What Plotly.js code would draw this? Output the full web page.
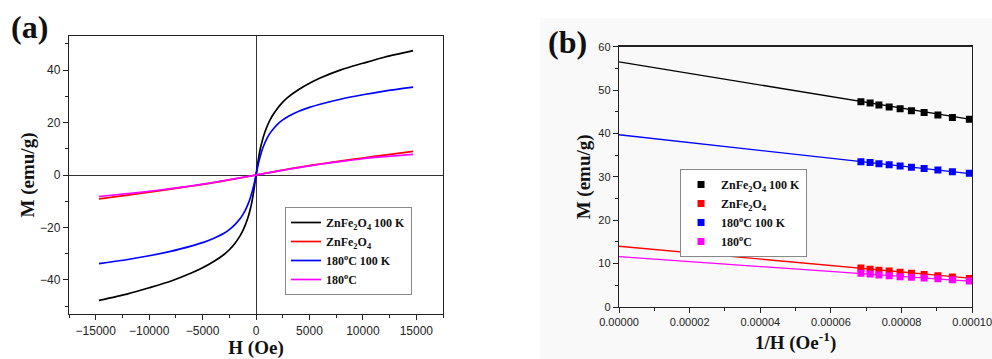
<!DOCTYPE html>
<html>
<head>
<meta charset="utf-8">
<script src="https://cdn.plot.ly/plotly-3.0.1.min.js"></script>
<style>html,body{margin:0;padding:0;background:#fff;}#chart{width:992px;height:359px;}</style>
</head>
<body>
<div id="chart"></div>
<script>
// ---------- Panel (a): M vs H ----------
const H = [-14700, -12000, -10000, -8000, -6000, -5000, -4000, -3000, -2500, -2000, -1500, -1250, -1000, -800, -600, -400, -200, 0,
           200, 400, 600, 800, 1000, 1250, 1500, 2000, 2500, 3000, 4000, 5000, 6000, 8000, 10000, 12000, 14700];
const M_zn100K = [-47.8, -45.3, -43.0, -40.5, -37.3, -35.4, -33.1, -30.3, -28.5, -26.2, -23.2, -21.3, -19.0, -16.8, -14.0, -10.5, -5.8, 0,
                  5.5, 10.0, 13.3, 16.0, 18.2, 20.5, 22.4, 25.4, 27.8, 29.7, 32.6, 35.0, 37.0, 40.2, 42.6, 44.9, 47.4];
const M_zn = [-9.1, -7.65, -6.55, -5.4, -4.2, -3.58, -2.92, -2.22, -1.86, -1.5, -1.12, -0.94, -0.75, -0.6, -0.45, -0.3, -0.15, 0,
              0.15, 0.3, 0.45, 0.6, 0.75, 0.94, 1.12, 1.5, 1.86, 2.22, 2.92, 3.58, 4.2, 5.4, 6.5, 7.6, 9.0];
const M_180_100K = [-33.8, -32.2, -30.8, -29.1, -27.0, -25.8, -24.2, -22.2, -20.8, -19.0, -16.7, -15.2, -13.4, -11.6, -9.5, -6.9, -3.8, 0,
                    4.0, 7.2, 9.9, 12.0, 13.8, 15.6, 17.0, 19.3, 21.0, 22.3, 24.3, 25.8, 27.0, 29.0, 30.6, 32.0, 33.5];
const M_180 = [-8.2, -7.1, -6.2, -5.2, -4.1, -3.5, -2.85, -2.15, -1.8, -1.45, -1.1, -0.92, -0.74, -0.59, -0.44, -0.3, -0.15, 0,
               0.15, 0.3, 0.44, 0.59, 0.74, 0.92, 1.1, 1.45, 1.8, 2.15, 2.85, 3.5, 4.1, 5.2, 6.2, 7.0, 7.9];

// ---------- Panel (b): M vs 1/H ----------
const invH = [6.85e-5, 7.11e-5, 7.36e-5, 7.65e-5, 7.96e-5, 8.28e-5, 8.64e-5, 9.03e-5, 9.44e-5, 9.92e-5];
const Mb_zn100K = [47.3, 47.0, 46.55, 46.1, 45.7, 45.25, 44.8, 44.25, 43.7, 43.25];
const Mb_zn = [9.0, 8.7, 8.5, 8.3, 8.0, 7.8, 7.5, 7.2, 6.9, 6.6];
const Mb_180_100K = [33.5, 33.3, 33.0, 32.8, 32.5, 32.2, 31.9, 31.6, 31.2, 30.8];
const Mb_180 = [7.8, 7.6, 7.4, 7.2, 7.0, 6.85, 6.7, 6.5, 6.3, 6.0];
// linear fits: value at 1/H = 0 and at 1/H = 0.0001
const fitX = [0, 0.0001];
const fit_zn100K = [56.5, 43.2];
const fit_zn = [14.0, 6.6];
const fit_180_100K = [39.7, 30.7];
const fit_180 = [11.6, 5.9];
const bTickVals = [0, 0.00002, 0.00004, 0.00006, 0.00008, 0.0001];
const bTickText = ['0.00000', '0.00002', '0.00004', '0.00006', '0.00008', '0.00010'];

const names = ['ZnFe<sub>2</sub>O<sub>4</sub> 100 K', 'ZnFe<sub>2</sub>O<sub>4</sub>',
               '180<sup>o</sup>C 100 K', '180<sup>o</sup>C'];
const colors = ['#000000', '#ff0000', '#0000ff', '#ff00ff'];

const aSeries = [M_zn100K, M_zn, M_180_100K, M_180];
const bSeries = [Mb_zn100K, Mb_zn, Mb_180_100K, Mb_180];
const fits = [fit_zn100K, fit_zn, fit_180_100K, fit_180];

const traces = [];
aSeries.forEach((m, i) => {
  traces.push({x: H, y: m, type: 'scatter', mode: 'lines', name: names[i],
    line: {color: colors[i], width: 1.7, shape: 'spline', smoothing: 0.8},
    xaxis: 'x', yaxis: 'y', legend: 'legend'});
});
fits.forEach((f, i) => {
  traces.push({x: fitX, y: f, type: 'scatter', mode: 'lines', showlegend: false,
    line: {color: colors[i], width: 1.3}, xaxis: 'x2', yaxis: 'y2', hoverinfo: 'skip'});
});
bSeries.forEach((m, i) => {
  traces.push({x: invH, y: m, type: 'scatter', mode: 'markers', name: names[i],
    marker: {color: colors[i], symbol: 'square', size: 7},
    xaxis: 'x2', yaxis: 'y2', legend: 'legend2'});
});

const tickFont = {family: 'Liberation Sans, Arial, sans-serif', size: 12, color: '#222'};
const tickFontB = {family: 'Liberation Sans, Arial, sans-serif', size: 11, color: '#222'};
const titleFont = {family: 'Liberation Serif, Times New Roman, serif', size: 19, color: '#111', weight: 'bold'};
const legFont = {family: 'Liberation Serif, Times New Roman, serif', size: 12, color: '#111', weight: 'bold'};
const axBase = {showline: true, mirror: true, linecolor: '#222', linewidth: 1.2, showgrid: false,
  ticks: 'outside', ticklen: 5, tickwidth: 1, tickcolor: '#222', tickfont: tickFont};

const layout = {
  width: 992, height: 359,
  margin: {l: 0, r: 0, t: 0, b: 0},
  paper_bgcolor: '#ffffff', plot_bgcolor: 'rgba(0,0,0,0)',
  showlegend: true,
  xaxis: Object.assign({}, axBase, {
    domain: [0.0696, 0.4466], range: [-17500, 17500], tick0: 0, dtick: 5000, tickformat: 'd',
    minor: {ticks: 'outside', ticklen: 3, dtick: 2500, tick0: 0, tickcolor: '#222'},
    zeroline: true, zerolinecolor: '#333', zerolinewidth: 1,
    title: {text: 'H (Oe)', font: titleFont, standoff: 10}, anchor: 'y'}),
  yaxis: Object.assign({}, axBase, {
    domain: [0.1253, 0.8997], range: [-53, 53], tick0: 0, dtick: 20,
    minor: {ticks: 'outside', ticklen: 3, dtick: 10, tick0: 0, tickcolor: '#222'},
    zeroline: true, zerolinecolor: '#333', zerolinewidth: 1,
    title: {text: 'M (emu/g)', font: titleFont, standoff: 0}, anchor: 'x'}),
  xaxis2: Object.assign({}, axBase, {
    domain: [0.624, 0.98], range: [0, 0.0001], tickmode: 'array', tickfont: tickFontB,
    tickvals: bTickVals, ticktext: bTickText, ticklabeloverflow: 'allow',
    minor: {ticks: 'outside', ticklen: 3, tickmode: 'linear', dtick: 0.00001, tick0: 0, tickcolor: '#222'},
    zeroline: false,
    title: {text: '1/H (Oe<sup>-1</sup>)', font: titleFont, standoff: 8}, anchor: 'y2'}),
  yaxis2: Object.assign({}, axBase, {
    domain: [0.1448, 0.870], range: [0, 60], tick0: 0, dtick: 10, tickfont: tickFontB,
    minor: {ticks: 'outside', ticklen: 3, dtick: 5, tick0: 0, tickcolor: '#222'},
    zeroline: false,
    title: {text: 'M (emu/g)', font: titleFont, standoff: 2}, anchor: 'x2'}),
  legend: {x: 0.2873, y: 0.4234, xanchor: 'left', yanchor: 'top', bgcolor: '#ffffff',
    bordercolor: '#888', borderwidth: 1, font: legFont, tracegroupgap: 0},
  legend2: {x: 0.6855, y: 0.5292, xanchor: 'left', yanchor: 'top', bgcolor: '#ffffff',
    bordercolor: '#888', borderwidth: 1, font: legFont, tracegroupgap: 0},
  shapes: [{type: 'rect', xref: 'paper', yref: 'paper', x0: 540 / 992, x1: 1, y0: 0, y1: 1 - 18 / 359,
    fillcolor: '#f9f9f9', line: {width: 0}, layer: 'below'}],
  annotations: [
    {text: '(a)', xref: 'paper', yref: 'paper', x: 29 / 992, y: 1 - 27 / 359, xanchor: 'center', yanchor: 'middle',
     showarrow: false, font: {family: 'Liberation Serif, Times New Roman, serif', size: 32, color: '#111', weight: 'bold'}},
    {text: '(b)', xref: 'paper', yref: 'paper', x: 567 / 992, y: 1 - 42 / 359, xanchor: 'center', yanchor: 'middle',
     showarrow: false, font: {family: 'Liberation Serif, Times New Roman, serif', size: 32, color: '#111', weight: 'bold'}}
  ]
};

Plotly.newPlot('chart', traces, layout, {staticPlot: true, displayModeBar: false});
</script>
</body>
</html>
